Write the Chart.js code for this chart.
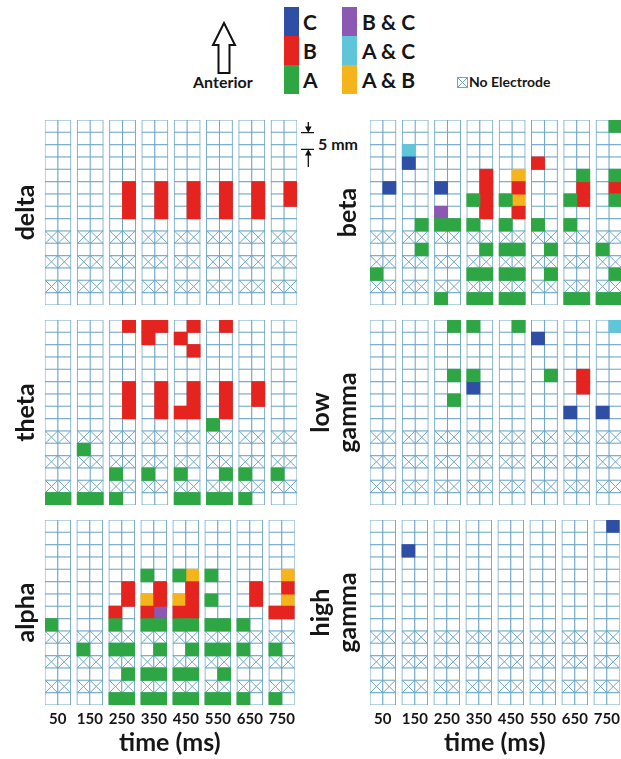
<!DOCTYPE html>
<html>
<head>
<meta charset="utf-8">
<script src="https://cdn.jsdelivr.net/npm/chart.js@4.4.1/dist/chart.umd.min.js"></script>
<style>
  html, body { margin: 0; padding: 0; background: #fff; }
  #page { position: relative; width: 621px; height: 759px; overflow: hidden; background: #fff;
          font-family: Lato, "Open Sans", sans-serif; font-weight: 700; color: #161616; }
  #page canvas { position: absolute; }
  .sw { position: absolute; width: 15px; height: 29px; }
  .lg { position: absolute; font-size: 21px; line-height: 29px; height: 29px; white-space: nowrap; }
  .note { position: absolute; white-space: nowrap; }
</style>
</head>
<body>
<div id="page">
  <!-- legend -->
  <svg style="position:absolute;left:0;top:0" width="621" height="170">
    <path d="M224 23 L235 45 L229.5 45 L229.5 73 L218.5 73 L218.5 45 L213 45 Z"
          fill="#fff" stroke="#111" stroke-width="2" stroke-linejoin="miter"/>
    <rect x="457.5" y="77.5" width="10" height="10" fill="#fff" stroke="#6ea6c6" stroke-width="1"/>
    <path d="M457.5 77.5 L467.5 87.5 M467.5 77.5 L457.5 87.5" stroke="#6ea6c6" stroke-width="1"/>
    <!-- 5 mm spacing marker -->
    <path d="M308.3 122 L308.3 128 M301 132.7 L314 132.7 M301 149.3 L314 149.3 M308.3 154 L308.3 167"
          stroke="#111" stroke-width="1.3" fill="none"/>
    <path d="M305 126.5 L311.6 126.5 L308.3 132.7 Z M305 155.5 L311.6 155.5 L308.3 149.3 Z" fill="#111"/>
  </svg>
  <div class="note" style="left:193px;top:72px;font-size:16px;line-height:20px;">Anterior</div>
  <div class="sw" style="left:284px;top:7px;background:#2f4fa6"></div>
  <div class="sw" style="left:284px;top:36px;background:#e5231f"></div>
  <div class="sw" style="left:284px;top:65px;background:#2ea644"></div>
  <div class="lg" style="left:303px;top:7px">C</div>
  <div class="lg" style="left:303px;top:36px">B</div>
  <div class="lg" style="left:303px;top:65px">A</div>
  <div class="sw" style="left:342px;top:7px;background:#8b58b3"></div>
  <div class="sw" style="left:342px;top:36px;background:#5fc5d8"></div>
  <div class="sw" style="left:342px;top:65px;background:#f6b41c"></div>
  <div class="lg" style="left:362px;top:7px">B &amp; C</div>
  <div class="lg" style="left:362px;top:36px">A &amp; C</div>
  <div class="lg" style="left:362px;top:65px">A &amp; B</div>
  <div class="note" style="left:469px;top:73px;font-size:14px;line-height:18px;">No Electrode</div>
  <div class="note" style="left:318px;top:134px;font-size:16px;line-height:20px;">5 mm</div>

  <canvas id="c-delta" width="300" height="191" style="left:0;top:117px;width:300px;height:191px"></canvas>
  <canvas id="c-theta" width="300" height="191" style="left:0;top:317px;width:300px;height:191px"></canvas>
  <canvas id="c-alpha" width="300" height="242" style="left:0;top:517px;width:300px;height:242px"></canvas>
  <canvas id="c-beta" width="325" height="191" style="left:300px;top:117px;width:325px;height:191px"></canvas>
  <canvas id="c-lowgamma" width="325" height="191" style="left:300px;top:317px;width:325px;height:191px"></canvas>
  <canvas id="c-highgamma" width="325" height="242" style="left:300px;top:517px;width:325px;height:242px"></canvas>
</div>

<script>
// Time windows (ms) and electrode strip geometry
const timeLabels = ['50', '150', '250', '350', '450', '550', '650', '750'];
const stripRows = 15;            // electrodes along the strip (row 0 = anterior)
const stripCols = 2;             // electrodes across the strip
const noElectrodeRows = [9, 11, 13];

// Significant electrodes: [time window index, strip column, strip row]
const deltaB = [
  [2,1,5],[2,1,6],[2,1,7],[3,1,5],[3,1,6],[3,1,7],[4,1,5],[4,1,6],[4,1,7],
  [5,1,5],[5,1,6],[5,1,7],[6,1,5],[6,1,6],[6,1,7],[7,1,5],[7,1,6]
];

const thetaA = [
  [0,0,14],[0,1,14],[1,0,10],[1,0,14],[1,1,14],[2,0,12],[2,0,14],[3,0,12],
  [4,0,12],[4,0,14],[4,1,14],[5,0,8],[5,1,12],[5,0,14],[5,1,14],[6,0,12],[6,0,14],[7,0,12]
];
const thetaB = [
  [2,1,0],[2,1,5],[2,1,6],[2,1,7],[3,0,0],[3,1,0],[3,0,1],[3,1,5],[3,1,6],[3,1,7],
  [4,1,0],[4,0,1],[4,1,2],[4,1,5],[4,1,6],[4,1,7],[4,0,7],[5,1,0],[5,1,5],[5,1,6],[5,1,7],
  [6,1,5],[6,1,6]
];

const alphaA = [
  [0,0,8],[1,0,10],[2,0,8],[2,0,10],[2,1,10],[2,1,12],[2,0,14],[2,1,14],
  [3,0,4],[3,0,8],[3,1,8],[3,1,10],[3,0,12],[3,1,12],[3,0,14],[3,1,14],
  [4,0,4],[4,0,8],[4,1,8],[4,1,10],[4,0,12],[4,1,12],[4,0,14],[4,1,14],
  [5,0,4],[5,0,6],[5,0,8],[5,1,8],[5,0,10],[5,1,10],[5,1,12],[5,0,14],[5,1,14],
  [6,0,8],[6,0,10],[6,0,14],[7,0,10],[7,0,14]
];
const alphaB = [
  [2,1,5],[2,1,6],[2,0,7],[3,1,5],[3,1,6],[3,0,7],[4,1,5],[4,1,6],[4,0,7],[4,1,7],
  [6,1,5],[6,1,6],[7,1,5],[7,0,7],[7,1,7]
];
const alphaAB = [[3,0,6],[4,1,4],[4,0,6],[7,1,4],[7,1,6]];
const alphaBC = [[3,1,7]];

const betaA = [
  [0,0,12],[1,1,8],[1,1,10],[2,0,8],[2,1,8],[2,0,14],
  [3,0,6],[3,0,8],[3,1,10],[3,0,12],[3,1,12],[3,0,14],[3,1,14],
  [4,0,6],[4,0,8],[4,0,10],[4,1,10],[4,0,12],[4,1,12],[4,0,14],[4,1,14],
  [5,0,8],[5,1,10],[5,1,12],[6,1,4],[6,0,6],[6,0,8],[6,0,14],[6,1,14],
  [7,1,0],[7,1,4],[7,1,6],[7,0,10],[7,1,12],[7,0,14],[7,1,14]
];
const betaB = [[3,1,4],[3,1,5],[3,1,6],[3,1,7],[4,1,5],[4,1,7],[5,0,3],[6,1,5],[6,1,6],[7,1,5]];
const betaC = [[0,1,5],[1,0,3],[2,0,5]];
const betaAC = [[1,0,2]];
const betaBC = [[2,0,7]];
const betaAB = [[4,1,4],[4,1,6]];

const lowGammaA = [[2,1,0],[2,1,4],[2,1,6],[3,0,0],[3,0,4],[4,1,0],[5,1,4]];
const lowGammaB = [[6,1,4],[6,1,5]];
const lowGammaC = [[3,0,5],[5,0,1],[6,0,7],[7,0,7]];
const lowGammaAC = [[7,1,0]];

const highGammaC = [[1,0,2],[7,1,0]];

// Styling
const EFFECT_COLORS = { A: '#2ea644', B: '#e5231f', C: '#2f4fa6', BC: '#8b58b3', AC: '#5fc5d8', AB: '#f6b41c' };
const GRID_COLOR = '#6ea6c6';
const TEXT_COLOR = '#161616';
const FONT = 'Lato, "Open Sans", sans-serif';
const GROUP_STEP = 2.5;          // spacing between time-window strips, in electrode widths

const panels = [
  { canvas: 'c-delta', title: 'delta', axisWidth: 45, titlePad: 12, time: false,
    effects: [['B', deltaB]] },
  { canvas: 'c-theta', title: 'theta', axisWidth: 45, titlePad: 12, time: false,
    effects: [['A', thetaA], ['B', thetaB]] },
  { canvas: 'c-alpha', title: 'alpha', axisWidth: 45, titlePad: 12, time: true,
    effects: [['A', alphaA], ['B', alphaB], ['AB', alphaAB], ['BC', alphaBC]] },
  { canvas: 'c-beta', title: 'beta', axisWidth: 70, titlePad: 34, time: false,
    effects: [['A', betaA], ['B', betaB], ['C', betaC], ['AC', betaAC], ['BC', betaBC], ['AB', betaAB]] },
  { canvas: 'c-lowgamma', title: ['low', 'gamma'], axisWidth: 70, titlePad: 7, time: false,
    effects: [['A', lowGammaA], ['B', lowGammaB], ['C', lowGammaC], ['AC', lowGammaAC]] },
  { canvas: 'c-highgamma', title: ['high', 'gamma'], axisWidth: 70, titlePad: 7, time: true,
    effects: [['C', highGammaC]] }
];

const cellX = (t, c) => t * GROUP_STEP + c + 0.5;
const xMax = (timeLabels.length - 1) * GROUP_STEP + stripCols;

function electrodeCells() {
  const cells = [];
  timeLabels.forEach((_, t) => {
    for (let c = 0; c < stripCols; c++) {
      for (let r = 0; r < stripRows; r++) cells.push({ x: cellX(t, c), y: [r, r + 1] });
    }
  });
  return cells;
}

function missingElectrodes() {
  const pts = [];
  timeLabels.forEach((_, t) => {
    for (let c = 0; c < stripCols; c++) {
      noElectrodeRows.forEach(r => pts.push({ x: cellX(t, c), y: r + 0.5 }));
    }
  });
  return pts;
}

const toCells = list => list.map(([t, c, r]) => ({ x: cellX(t, c), y: [r, r + 1] }));

// X mark radius so the diagonal spans one electrode cell
function crossRadius(ctx) {
  const { x, y } = ctx.chart.scales;
  const hw = Math.abs(x.getPixelForValue(1) - x.getPixelForValue(0)) / 2;
  const hh = Math.abs(y.getPixelForValue(1) - y.getPixelForValue(0)) / 2;
  return (hw + hh) / 2 * Math.SQRT2;
}

const cellBar = { grouped: false, categoryPercentage: 1, barPercentage: 1, borderSkipped: false, inflateAmount: 0.5 };

panels.forEach(p => {
  const datasets = [
    Object.assign({ label: 'electrode', data: electrodeCells(), backgroundColor: '#ffffff',
      borderColor: GRID_COLOR, borderWidth: 1, order: 3 }, cellBar),
    { type: 'scatter', label: 'No Electrode', data: missingElectrodes(), pointStyle: 'crossRot',
      pointRadius: crossRadius, pointBorderColor: GRID_COLOR, pointBorderWidth: 1,
      pointBackgroundColor: 'rgba(0,0,0,0)', order: 2 }
  ];
  p.effects.forEach(([key, list]) => {
    datasets.push(Object.assign({ label: key, data: toCells(list), backgroundColor: EFFECT_COLORS[key],
      borderWidth: 0, order: 1 }, cellBar));
  });

  new Chart(document.getElementById(p.canvas), {
    type: 'bar',
    data: { datasets },
    options: {
      responsive: false,
      animation: false,
      events: [],
      layout: { autoPadding: false, padding: { top: 3, right: 3, left: 0, bottom: p.time ? 0 : 3 } },
      plugins: { legend: { display: false }, tooltip: { enabled: false } },
      scales: {
        x: {
          type: 'linear', offset: false, min: 0, max: xMax, display: p.time,
          grid: { display: false, drawTicks: false }, border: { display: false },
          afterBuildTicks: s => { s.ticks = timeLabels.map((_, i) => ({ value: i * GROUP_STEP + stripCols / 2 })); },
          ticks: { autoSkip: false, maxRotation: 0, padding: 5, color: TEXT_COLOR,
                   font: { family: FONT, size: 15, weight: 'bold' },
                   callback: (v, i) => timeLabels[i] },
          title: { display: true, text: 'time (ms)', color: TEXT_COLOR, padding: { top: 0, bottom: 1 },
                   font: { family: FONT, size: 25, weight: 'bold', lineHeight: 1.2 } },
          afterFit: s => { s.height = p.time ? 54 : 0; }
        },
        y: {
          type: 'linear', reverse: true, min: 0, max: stripRows,
          grid: { display: false, drawTicks: false }, border: { display: false },
          ticks: { display: false },
          title: { display: true, text: p.title, color: TEXT_COLOR, padding: { top: p.titlePad, bottom: 0 },
                   font: { family: FONT, size: 25, weight: 'bold', lineHeight: 1.1 } },
          afterFit: s => { s.width = p.axisWidth; }
        }
      }
    }
  });
});
</script>
</body>
</html>
